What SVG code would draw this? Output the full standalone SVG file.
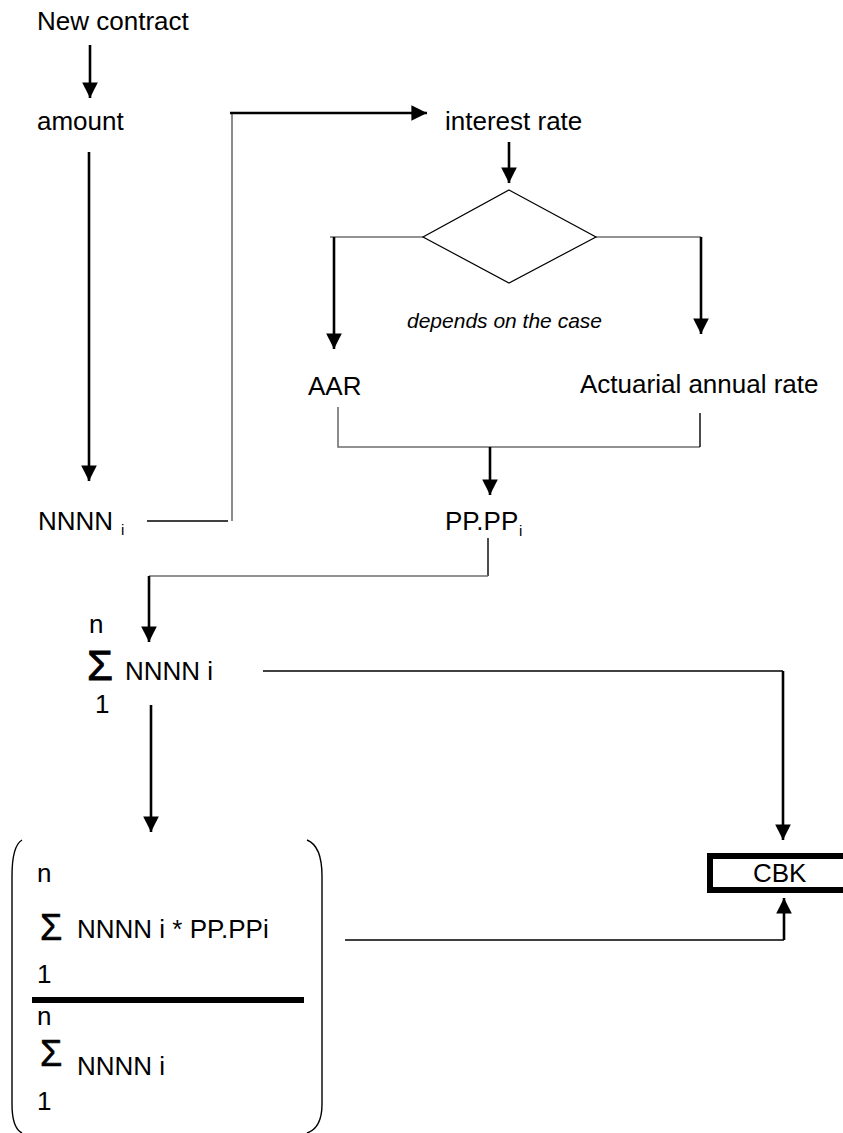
<svg xmlns="http://www.w3.org/2000/svg" width="843" height="1133" viewBox="0 0 843 1133">
<style>
text{font-family:"Liberation Sans",Arial,sans-serif;font-size:26px;fill:#000}
.sub{font-size:15px}
.it{font-style:italic;font-size:21px}
.sig{font-size:36px;stroke:#000;stroke-width:0.6}
.big{font-size:42px;stroke:#000;stroke-width:0.9}
.th{stroke:#000;stroke-width:2.6;fill:none}
.tn{stroke:#000;stroke-width:1.4;fill:none}
.gr{stroke:#6e6e6e;stroke-width:1.6;fill:none}
</style>
<defs>
<marker id="ah" markerWidth="6" markerHeight="6" refX="6" refY="3" orient="auto" markerUnits="strokeWidth" viewBox="0 0 6 6">
<path d="M0,0 L6,3 L0,6 Z" fill="#000"/>
</marker>
</defs>
<rect width="843" height="1133" fill="#fff"/>
<g id="connectors">
<line class="th" x1="90" y1="45" x2="90" y2="98" marker-end="url(#ah)"/>
<line class="th" x1="89" y1="152" x2="89" y2="481" marker-end="url(#ah)"/>
<polyline class="tn" points="147,521 228,521"/>
<polyline class="gr" points="232,521 232,113"/>
<line class="th" x1="230" y1="113" x2="427" y2="113" marker-end="url(#ah)"/>
<line class="th" x1="509" y1="142" x2="509" y2="183" marker-end="url(#ah)"/>
<polyline class="gr" points="423,237 330,237"/>
<line class="th" x1="334" y1="237" x2="334" y2="349" marker-end="url(#ah)"/>
<polyline class="gr" points="596,237 701,237"/>
<line class="th" x1="701" y1="237" x2="701" y2="334" marker-end="url(#ah)"/>
<polyline class="gr" points="338,407 338,447 700,447"/>
<polyline class="tn" points="700,413 700,447"/>
<line class="th" x1="490" y1="447" x2="490" y2="495" marker-end="url(#ah)"/>
<polyline class="tn" points="488,538 488,576"/>
<polyline class="gr" points="488,576 149,576"/>
<line class="th" x1="149" y1="576" x2="149" y2="642" marker-end="url(#ah)"/>
<polyline class="tn" points="263,671 783,671"/>
<line class="th" x1="783" y1="671" x2="783" y2="840" marker-end="url(#ah)"/>
<line class="th" x1="151" y1="705" x2="151" y2="832" marker-end="url(#ah)"/>
<polyline class="tn" points="345,940 784,940"/>
<line class="th" x1="784" y1="940" x2="784" y2="898" marker-end="url(#ah)"/>
</g>
<g id="new-contract"><text x="37" y="30">New contract</text></g>
<g id="amount"><text x="37" y="130">amount</text></g>
<g id="nnnn"><text x="38" y="530">NNNN</text><text class="sub" x="121" y="535">i</text></g>
<g id="interest-rate"><text x="445" y="130">interest rate</text></g>
<g id="decision"><polygon points="509,190 596,237 509,283 423,237" fill="#fff" stroke="#000" stroke-width="1.2"/></g>
<g id="depends"><text class="it" x="407" y="328">depends on the case</text></g>
<g id="aar"><text x="308" y="395">AAR</text></g>
<g id="actuarial"><text x="580" y="393">Actuarial annual rate</text></g>
<g id="pppp"><text x="445" y="530">PP.PP</text><text class="sub" x="519" y="536">i</text></g>
<g id="sum">
<text x="89" y="633">n</text>
<text class="big" x="87" y="680">Σ</text>
<text x="125" y="680">NNNN i</text>
<text x="95" y="713">1</text>
</g>
<g id="fraction">
<path class="tn" d="M22,840 Q12,846 12,876 L12,1104 Q12,1128 22,1133"/>
<path class="tn" d="M307,840 Q322,846 322,876 L322,1104 Q322,1128 307,1133"/>
<text x="37" y="882">n</text>
<text class="sig" x="40" y="940">Σ</text>
<text x="77" y="938">NNNN i * PP.PPi</text>
<text x="37" y="983">1</text>
<line x1="32" y1="1000" x2="304" y2="1000" stroke="#000" stroke-width="6"/>
<text x="37" y="1025">n</text>
<text class="sig" x="40" y="1066">Σ</text>
<text x="77" y="1075">NNNN i</text>
<text x="37" y="1110">1</text>
</g>
<g id="cbk">
<rect x="710" y="856" width="140" height="34" fill="#fff" stroke="#000" stroke-width="6"/>
<text x="753" y="882">CBK</text>
</g>
</svg>
